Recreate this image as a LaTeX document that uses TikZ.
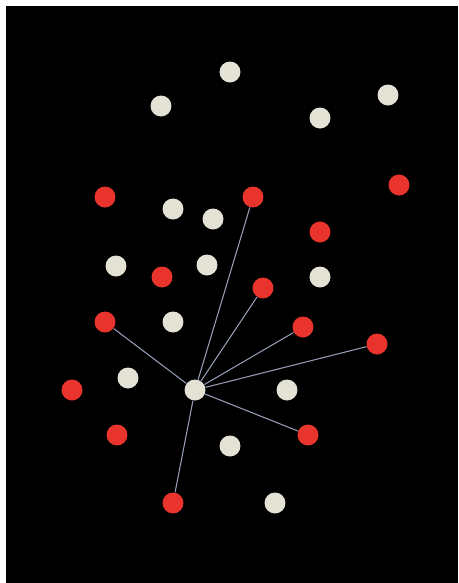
\documentclass[tikz,border=0pt]{standalone}
\usetikzlibrary{positioning}
\definecolor{dotred}{RGB}{232,52,44}
\definecolor{dotcream}{RGB}{228,226,212}
\definecolor{linkgray}{RGB}{150,158,182}

\begin{document}
\begin{tikzpicture}[x=0.02cm,y=-0.02cm,dot/.style={circle,inner sep=0pt,minimum size=0.42cm},wdot/.style={dot,fill=dotcream},rdot/.style={dot,fill=dotred},link/.style={draw=linkgray,line width=0.6pt}]
\fill[white](0,0)rectangle(458,583);
\fill[black](6,6)rectangle(458,583);
% cream dots
\node[wdot](w1)at(230,72){};\node[wdot](w2)at(161,106){};\node[wdot](w3)at(320,118){};\node[wdot](w4)at(388,95){};
\node[wdot](w5)at(173,209){};\node[wdot](w6)at(213,219){};\node[wdot](w7)at(116,266){};\node[wdot](w8)at(207,265){};
\node[wdot](w9)at(320,277){};\node[wdot](w10)at(173,322){};\node[wdot](w11)at(128,378){};\node[wdot](hub)at(195,390){};
\node[wdot](w13)at(287,390){};\node[wdot](w14)at(230,446){};\node[wdot](w15)at(275,503){};
% red dots
\node[rdot](r1)at(105,197){};\node[rdot](r2)at(253,197){};\node[rdot](r3)at(399,185){};\node[rdot](r4)at(320,232){};
\node[rdot](r5)at(162,277){};\node[rdot](r6)at(263,288){};\node[rdot](r7)at(105,322){};\node[rdot](r8)at(303,327){};
\node[rdot](r9)at(377,344){};\node[rdot](r10)at(72,390){};\node[rdot](r11)at(117,435){};\node[rdot](r12)at(308,435){};
\node[rdot](r13)at(173,503){};
% links from the hub
\draw[link](hub)--(r2);\draw[link](hub)--(r6);\draw[link](hub)--(r8);\draw[link](hub)--(r9);
\draw[link](hub)--(r12);\draw[link](hub)--(r13);\draw[link](hub)--(r7);
\end{tikzpicture}
\end{document}
